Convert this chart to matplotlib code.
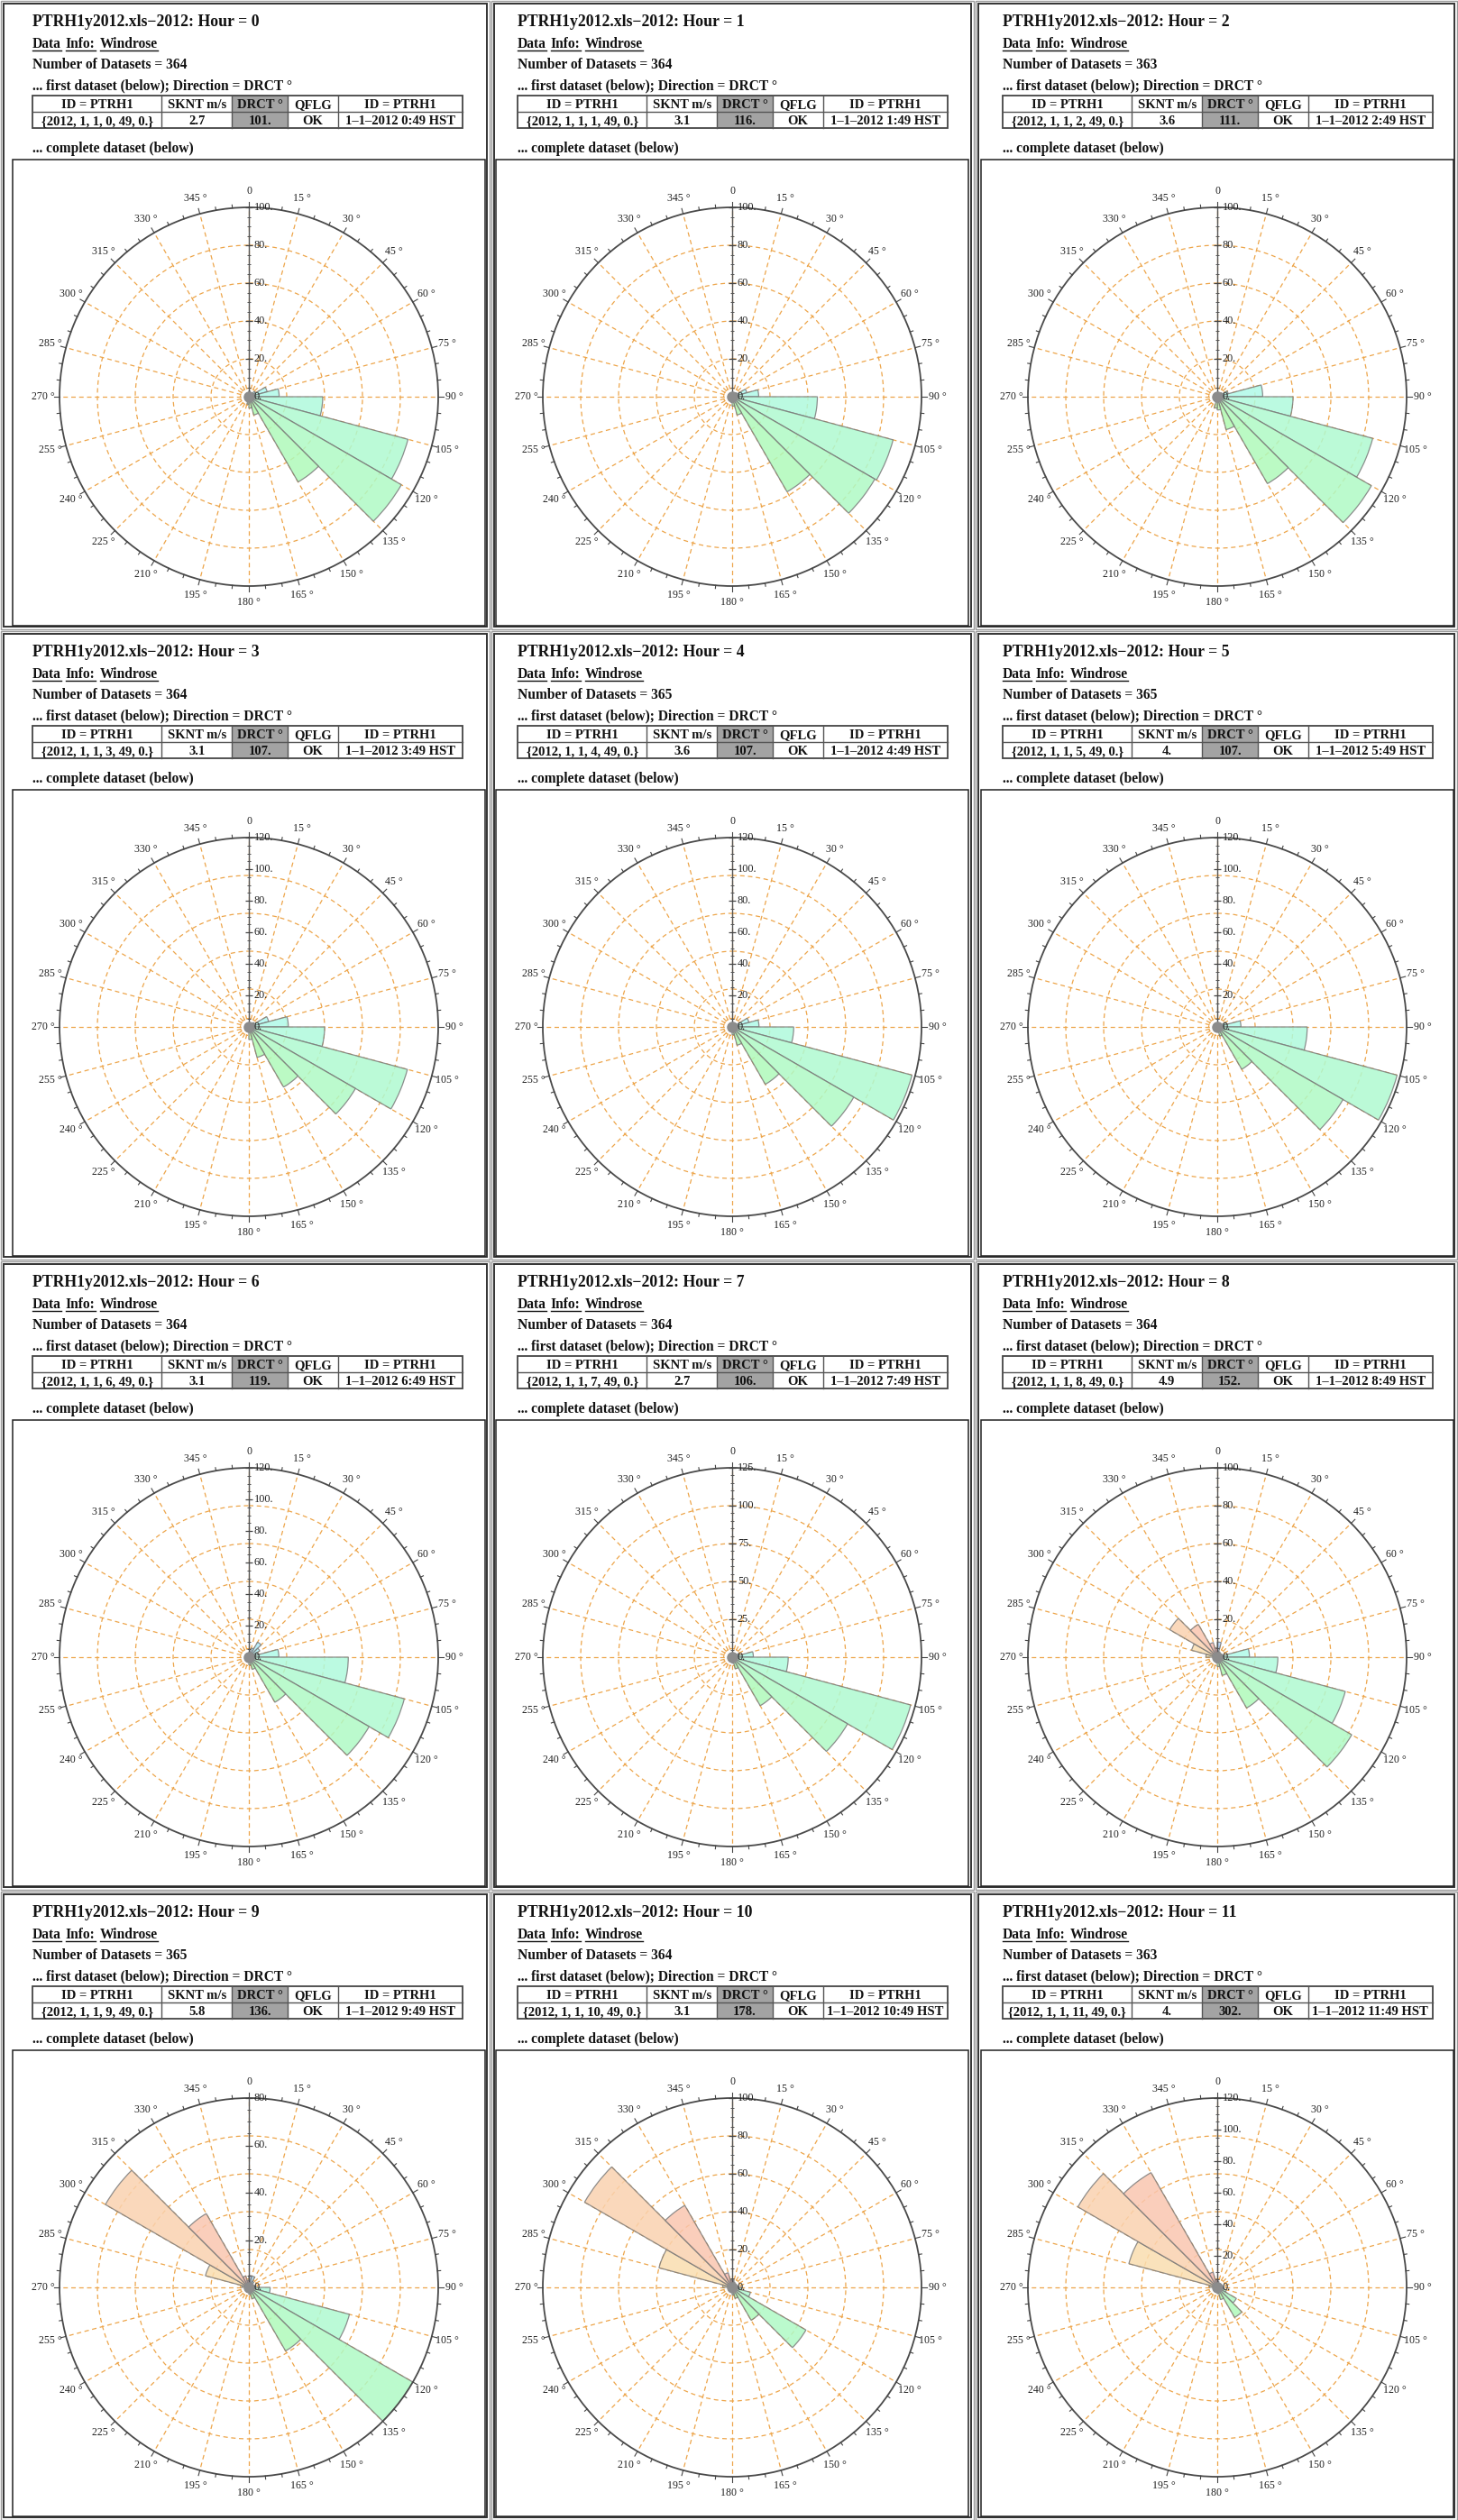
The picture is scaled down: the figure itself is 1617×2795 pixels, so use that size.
import numpy as np
import matplotlib
matplotlib.use("Agg")
import matplotlib.pyplot as plt
from matplotlib.patches import Rectangle
from matplotlib.transforms import offset_copy
import colorsys

# ---------------- data ----------------
hours = list(range(12))
n_datasets = [364, 364, 363, 364, 365, 365, 364, 364, 364, 365, 364, 363]
sknt = ["2.7", "3.1", "3.6", "3.1", "3.6", "4.", "3.1", "2.7", "4.9", "5.8", "3.1", "4."]
drct = ["101.", "116.", "111.", "107.", "107.", "107.", "119.", "106.", "152.", "136.", "178.", "302."]
r_max = [100, 100, 100, 120, 120, 120, 120, 125, 100, 80, 100, 120]
r_step = [20, 20, 20, 20, 20, 20, 20, 25, 20, 20, 20, 20]

bin_start_deg = list(range(0, 360, 15))   # 24 direction bins, 15 deg wide

counts_h0 = [3, 2, 2, 4, 10, 16, 39, 87, 93, 52, 10, 6, 4, 2, 2, 2, 1, 1, 2, 2, 2, 2, 2, 2]
counts_h1 = [2, 2, 2, 3, 8, 14, 45, 88, 87, 58, 10, 5, 3, 2, 2, 1, 1, 1, 1, 1, 1, 2, 2, 2]
counts_h2 = [2, 2, 2, 3, 6, 24, 40, 85, 94, 53, 18, 7, 6, 2, 1, 1, 1, 1, 1, 1, 1, 1, 2, 2]
counts_h3 = [2, 2, 3, 4, 13, 25, 48, 104, 78, 44, 20, 8, 3, 2, 1, 1, 1, 1, 1, 1, 1, 2, 2, 2]
counts_h4 = [2, 2, 2, 3, 11, 17, 39, 118, 89, 42, 12, 5, 2, 1, 1, 1, 1, 1, 1, 1, 1, 1, 2, 2]
counts_h5 = [2, 2, 2, 3, 6, 15, 57, 118, 92, 31, 6, 3, 2, 1, 1, 1, 1, 1, 1, 1, 1, 1, 2, 2]
counts_h6 = [3, 6, 11, 8, 6, 19, 63, 102, 88, 33, 8, 5, 2, 1, 1, 1, 1, 1, 1, 1, 1, 1, 2, 2]
counts_h7 = [2, 2, 2, 3, 5, 14, 37, 122, 88, 37, 8, 4, 2, 1, 1, 1, 1, 1, 1, 1, 1, 1, 2, 2]
counts_h8 = [8, 3, 2, 2, 3, 17, 32, 70, 82, 31, 10, 5, 3, 2, 2, 2, 2, 2, 6, 14, 29, 20, 8, 5]
counts_h9 = [5, 5, 3, 2, 2, 3, 9, 44, 80, 31, 5, 3, 2, 2, 1, 1, 1, 1, 3, 19, 70, 36, 5, 3]
counts_h10 = [4, 3, 2, 2, 2, 3, 5, 10, 45, 20, 6, 4, 2, 2, 1, 1, 1, 1, 5, 40, 90, 50, 8, 4]
counts_h11 = [4, 3, 2, 2, 2, 3, 4, 6, 14, 22, 8, 4, 2, 2, 1, 1, 1, 1, 5, 58, 102, 84, 10, 5]

all_counts = [counts_h0, counts_h1, counts_h2, counts_h3, counts_h4, counts_h5,
              counts_h6, counts_h7, counts_h8, counts_h9, counts_h10, counts_h11]

header_cells = ["ID = PTRH1", "SKNT m/s", "DRCT \u00b0", "QFLG", "ID = PTRH1"]

# ---------------- layout (pixels) ----------------
W, H = 1617, 2795
DPI = 100
SERIF = "Liberation Serif"

col_left = [0, 544, 1081]
col_right = [544, 1081, 1617]
text_x = [36, 574, 1112]
box_x = [(14, 538), (550, 1074), (1088, 1612)]
row_top = [0, 699, 1398, 2097]
R_PX = 210
table_frac = [0, 0.3007, 0.463, 0.594, 0.710, 1.0]
table_w = 477

GRID_COL = "#eda54a"
EDGE_COL = "#7b7b7b"
TXT = "#111111"


def bin_color(start):
    c = start + 7.5
    hue = (0.6 - 0.0017 * c) % 1.0
    return colorsys.hsv_to_rgb(hue, 0.30, 0.98)


fig = plt.figure(figsize=(W / DPI, H / DPI), dpi=DPI)
bg = fig.add_axes([0, 0, 1, 1], zorder=0)
bg.set_xlim(0, W)
bg.set_ylim(H, 0)
bg.axis("off")
renderer = fig.canvas.get_renderer()


def draw_underlined(x, y, words, fs):
    for w in words:
        t = bg.text(x, y, w, ha="left", va="baseline", fontsize=fs,
                    family=SERIF, weight="bold", color=TXT)
        bb = t.get_window_extent(renderer)
        bb_d = bb.transformed(bg.transData.inverted())
        x0, x1 = min(bb_d.x0, bb_d.x1), max(bb_d.x0, bb_d.x1)
        bg.plot([x0, x1], [y + 3, y + 3], color=TXT, lw=1.0)
        x = x1 + 5


for idx, h in enumerate(hours):
    r = idx // 3
    c = idx % 3
    y0 = row_top[r]
    cl, cr = col_left[c], col_right[c]
    tx = text_x[c]

    # panel cell frame (double line)
    bg.add_patch(Rectangle((cl + 1, y0 + 1), cr - cl - 2, 697, fill=False,
                           ec="#9a9a9a", lw=1.0))
    bg.add_patch(Rectangle((cl + 4, y0 + 4), cr - cl - 8, 691, fill=False,
                           ec="#333333", lw=1.4))

    # header texts
    bg.text(tx, y0 + 29, "PTRH1y2012.xls\u22122012: Hour = %d" % h, ha="left",
            va="baseline", fontsize=12.8, family=SERIF, weight="bold", color=TXT)
    draw_underlined(tx, y0 + 53, ["Data", "Info:", "Windrose"], 11.2)
    bg.text(tx, y0 + 76, "Number of Datasets = %d" % n_datasets[idx], ha="left",
            va="baseline", fontsize=11.2, family=SERIF, weight="bold", color=TXT)
    bg.text(tx, y0 + 99, "... first dataset (below); Direction = DRCT \u00b0",
            ha="left", va="baseline", fontsize=11.2, family=SERIF, weight="bold",
            color=TXT)

    # table
    ty_top, ty_mid, ty_bot = y0 + 106, y0 + 124, y0 + 142
    xs = [tx + f * table_w for f in table_frac]
    row_cells = ["{2012, 1, 1, %d, 49, 0.}" % h, sknt[idx], drct[idx], "OK",
                 "1\u20131\u20132012 %d:49 HST" % h]
    bg.add_patch(Rectangle((xs[2], ty_top), xs[3] - xs[2], ty_bot - ty_top,
                           fc="#a3a3a3", ec="none"))
    bg.add_patch(Rectangle((xs[0], ty_top), xs[-1] - xs[0], ty_bot - ty_top,
                           fill=False, ec="#444444", lw=1.3))
    bg.plot([xs[0], xs[-1]], [ty_mid, ty_mid], color="#555555", lw=1.0)
    for xv in xs[1:-1]:
        bg.plot([xv, xv], [ty_top, ty_bot], color="#555555", lw=1.0)
    for k in range(5):
        xm = 0.5 * (xs[k] + xs[k + 1])
        bg.text(xm, ty_mid - 4, header_cells[k], ha="center", va="baseline",
                fontsize=10.5, family=SERIF, weight="bold", color=TXT)
        bg.text(xm, ty_bot - 4, row_cells[k], ha="center", va="baseline",
                fontsize=10.5, family=SERIF, weight="bold", color=TXT)

    bg.text(tx, y0 + 169, "... complete dataset (below)", ha="left", va="baseline",
            fontsize=11.2, family=SERIF, weight="bold", color=TXT)

    # plot box
    bx0, bx1 = box_x[c]
    bg.add_patch(Rectangle((bx0, y0 + 177), bx1 - bx0, 517, fill=False,
                           ec="#222222", lw=1.1))

    # ---------------- polar windrose ----------------
    cx = 0.5 * (bx0 + bx1)
    cy = y0 + 440
    rm = r_max[idx]
    ax = fig.add_axes([(cx - R_PX) / W, 1 - (cy + R_PX) / H, 2 * R_PX / W, 2 * R_PX / H],
                      projection="polar", zorder=2)
    ax.set_theta_zero_location("N")
    ax.set_theta_direction(-1)
    ax.set_ylim(0, rm)
    ax.set_xticks(np.deg2rad(np.arange(0, 360, 15)))
    ax.set_xticklabels([])
    ax.set_yticks([rm * k / 5 for k in range(1, 5)])
    ax.set_yticklabels([])
    ax.tick_params(axis="both", length=0)
    ax.grid(True, color=GRID_COL, linestyle=(0, (4, 3)), linewidth=0.9)
    ax.set_axisbelow(True)
    ax.spines["polar"].set_color("#4a4a4a")
    ax.spines["polar"].set_linewidth(1.3)

    vals = all_counts[idx]
    thetas = np.deg2rad(np.array(bin_start_deg) + 7.5)
    cols = [bin_color(s) for s in bin_start_deg]
    ax.bar(thetas, vals, width=np.deg2rad(15), bottom=0, color=cols, alpha=0.85,
           edgecolor=EDGE_COL, linewidth=0.9, zorder=2)

    # small inner dashed ring and centre blob
    tt = np.linspace(0, 2 * np.pi, 120)
    ax.plot(tt, np.full_like(tt, rm * 0.045), color=GRID_COL, lw=0.9,
            linestyle=(0, (2, 1.5)), zorder=1)
    ax.plot([0], [0], "o", ms=8, color="#8c8c8c", zorder=4)

    # radial axis (vertical, to the top)
    ax.plot([0, 0], [0, rm], color="#555555", lw=1.0, zorder=3)
    minor = np.arange(0, rm + 0.01, 5)
    ax.plot(np.zeros_like(minor), minor, ls="none", marker="_", ms=3, mew=0.7,
            color="#555555", zorder=3, clip_on=False)
    major = np.arange(0, rm + 0.01, r_step[idx])
    ax.plot(np.zeros_like(major), major, ls="none", marker="_", ms=6, mew=0.9,
            color="#444444", zorder=3, clip_on=False)
    lab_tr = offset_copy(ax.transData, fig=fig, x=6, y=0, units="dots")
    for v in major:
        ax.text(0, v, "%d." % v, transform=lab_tr, ha="left", va="center",
                fontsize=8.8, family=SERIF, color="#222222", zorder=5, clip_on=False)

    # outer circle ticks + angle labels
    for a in range(0, 360, 5):
        th = np.deg2rad(a)
        ln = 6.0 if a % 15 == 0 else 3.5
        ax.plot([th, th], [rm, rm * (1 + ln / R_PX)], color="#444444", lw=0.8,
                clip_on=False, zorder=3)
    for a in range(0, 360, 15):
        lab = "0" if a == 0 else "%d \u00b0" % a
        ax.text(np.deg2rad(a), rm * 1.085, lab, ha="center", va="center",
                fontsize=8.6, family=SERIF, color="#222222", clip_on=False)

fig.savefig("out.png", dpi=DPI, facecolor="white")
